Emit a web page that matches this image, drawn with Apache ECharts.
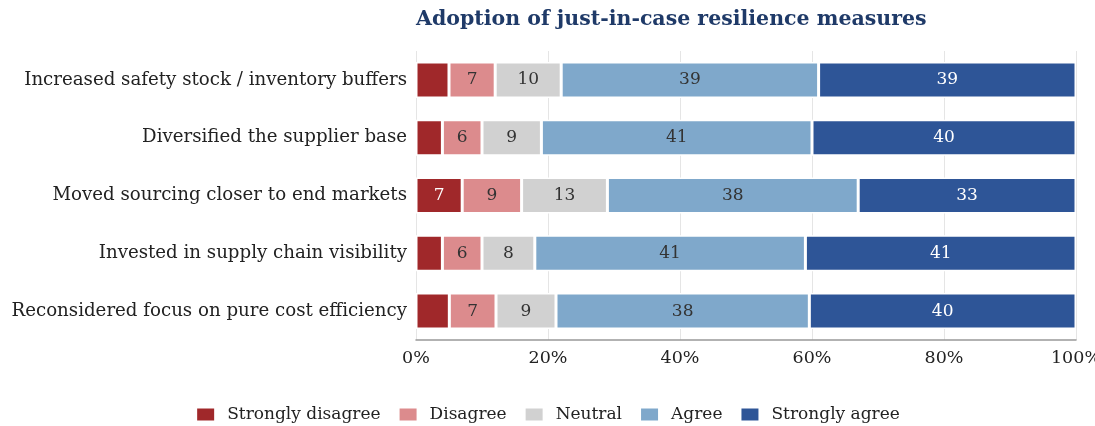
<!DOCTYPE html>
<html>
<head>
<meta charset="utf-8">
<script src="https://cdn.jsdelivr.net/npm/echarts@6/dist/echarts.min.js"></script>
<style>html,body{margin:0;padding:0;background:#fff}#c{width:1095px;height:426px}</style>
</head>
<body>
<div id="c"></div>
<script>
const categories = [
  "Increased safety stock / inventory buffers",
  "Diversified the supplier base",
  "Moved sourcing closer to end markets",
  "Invested in supply chain visibility",
  "Reconsidered focus on pure cost efficiency"
];
const seriesNames = ["Strongly disagree", "Disagree", "Neutral", "Agree", "Strongly agree"];
const stronglyDisagree = [5, 4, 7, 4, 5];
const disagree = [7, 6, 9, 6, 7];
const neutral = [10, 9, 13, 8, 9];
const agree = [39, 41, 38, 41, 38];
const stronglyAgree = [39, 40, 33, 41, 40];
const xTicks = [0, 20, 40, 60, 80, 100];

const colors = ["#a0282a", "#dc8b8d", "#d1d1d1", "#7fa8cb", "#2e5597"];
const labelColors = ["#ffffff", "#333333", "#333333", "#333333", "#ffffff"];
const raw = [stronglyDisagree, disagree, neutral, agree, stronglyAgree];
const totals = categories.map((_, i) => raw.reduce((s, arr) => s + arr[i], 0));
const font = "DejaVu Serif";

const series = raw.map((arr, k) => ({
  name: seriesNames[k],
  type: "bar",
  stack: "total",
  barWidth: 36,
  data: arr.map((v, i) => ({ value: v / totals[i] * 100, raw: v })),
  itemStyle: { color: colors[k], borderColor: "#ffffff", borderWidth: 1.5 },
  label: {
    show: true,
    position: "inside",
    fontFamily: font,
    fontSize: 17,
    color: labelColors[k],
    formatter: p => (p.data.raw > 5 ? String(p.data.raw) : "")
  },
  emphasis: { disabled: true }
}));

const chart = echarts.init(document.getElementById("c"));
chart.setOption({
  animation: false,
  title: {
    text: "Adoption of just-in-case resilience measures",
    left: 411,
    top: 4,
    textStyle: { fontFamily: font, fontSize: 20.5, fontWeight: "bold", color: "#1f3a68" }
  },
  legend: {
    data: seriesNames,
    top: 401,
    left: "center",
    itemWidth: 19,
    itemHeight: 14,
    itemGap: 17,
    icon: "rect",
    textStyle: { fontFamily: font, fontSize: 17, color: "#222", padding: [0, 0, 0, 7] }
  },
  grid: { left: 416, right: 19, top: 51, bottom: 86, containLabel: false, outerBoundsMode: "none" },
  xAxis: {
    type: "value",
    min: xTicks[0],
    max: xTicks[xTicks.length - 1],
    interval: xTicks[1] - xTicks[0],
    axisLine: { show: true, lineStyle: { color: "#999", width: 1.5 } },
    axisTick: { show: false },
    axisLabel: { formatter: "{value}%", fontFamily: font, fontSize: 17.5, color: "#222", margin: 9 },
    splitLine: { show: true, lineStyle: { color: "#e5e5e5", width: 1 } }
  },
  yAxis: {
    type: "category",
    data: categories,
    inverse: true,
    axisLine: { show: false },
    axisTick: { show: false },
    axisLabel: { fontFamily: font, fontSize: 18.2, color: "#222", margin: 9 }
  },
  series: series
});
</script>
</body>
</html>
